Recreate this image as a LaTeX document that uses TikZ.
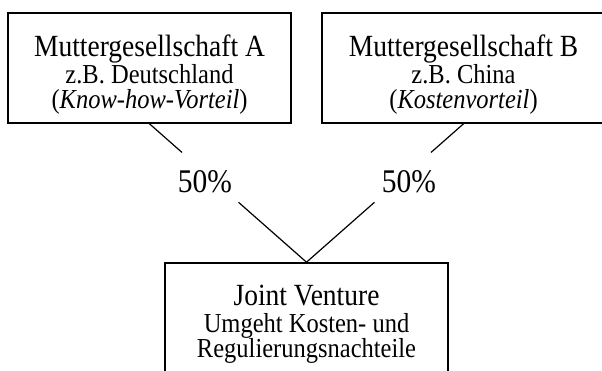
\documentclass[tikz,border=0pt]{standalone}
\usepackage{fontspec}
\setmainfont{Liberation Serif}
\usetikzlibrary{calc}
% letters are set a little taller than wide
\newcommand{\tall}[1]{\scalebox{1}[1.12]{#1}}
\begin{document}
\begin{tikzpicture}[x=1pt,y=-1pt,
  box/.style={draw, line width=1.6pt, inner sep=0pt, minimum width=283pt, minimum height=110pt},
  big/.style={font=\fontsize{27.5}{30}\selectfont, anchor=base, inner sep=0pt},
  small/.style={font=\fontsize{24.5}{27}\selectfont, anchor=base, inner sep=0pt},
  share/.style={font=\fontsize{29.5}{32}\selectfont, anchor=base, inner sep=0pt},
  link/.style={line width=1.2pt}]
\clip (0,0) rectangle (602,370);
\fill[white] (0,0) rectangle (602,370);

% parent companies and the joint venture
\node[box] (A) at (149.5,68) {};
\node[box] (B) at (463.5,68) {};
\node[box] (J) at (306.5,318) {};

\node[big]   (A1) at (149.5,56)  {\tall{Muttergesellschaft A}};
\node[small] (A2) at (149.5,83)  {\tall{z.B. Deutschland}};
\node[small] (A3) at (149.5,108) {\tall{(\textit{Know-how-Vorteil})}};

\node[big]   (B1) at (463.5,56)  {\tall{Muttergesellschaft B}};
\node[small] (B2) at (463.5,83)  {\tall{z.B. China}};
\node[small] (B3) at (463.5,108) {\tall{(\textit{Kostenvorteil})}};

\node[big]   (J1) at (306.5,305) {\tall{Joint Venture}};
\node[small] (J2) at (306.5,332) {\tall{Umgeht Kosten- und}};
\node[small] (J3) at (306.5,357) {\tall{Regulierungsnachteile}};

% shares, the connectors are broken around the labels
\node[share] (pA) at (205,192) {\tall{50\%}};
\node[share] (pB) at (409,192) {\tall{50\%}};

\draw[link] (A.south) -- ($(A.south)!0.207!(J.north)$);
\draw[link] ($(A.south)!0.567!(J.north)$) -- (J.north);
\draw[link] (B.south) -- ($(B.south)!0.207!(J.north)$);
\draw[link] ($(B.south)!0.567!(J.north)$) -- (J.north);
\end{tikzpicture}
\end{document}
